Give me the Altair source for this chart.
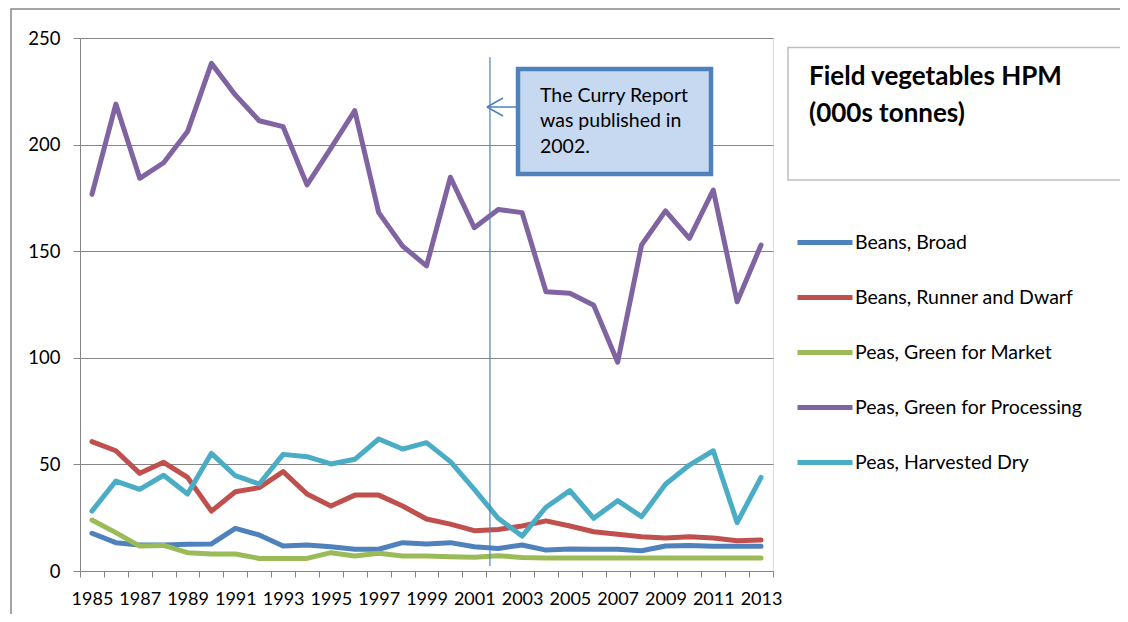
import altair as alt
import pandas as pd

years = ["1985", "1986", "1987", "1988", "1989", "1990", "1991", "1992", "1993", "1994",
         "1995", "1996", "1997", "1998", "1999", "2000", "2001", "2002", "2003", "2004",
         "2005", "2006", "2007", "2008", "2009", "2010", "2011", "2012", "2013"]

series_names = ["Beans, Broad", "Beans, Runner and Dwarf", "Peas, Green for Market",
                "Peas, Green for Processing", "Peas, Harvested Dry"]
series_colors = ["#4F81BD", "#C0504D", "#9BBB59", "#8064A2", "#4BACC6"]

beans_broad = [17.7, 13.3, 12.2, 12.2, 12.5, 12.7, 20.0, 16.9, 11.7, 12.2,
               11.4, 10.2, 10.2, 13.3, 12.7, 13.3, 11.4, 10.6, 12.2, 9.8,
               10.3, 10.2, 10.2, 9.5, 11.7, 12.0, 11.6, 11.6, 11.6]
beans_runner = [60.7, 56.4, 45.8, 51.0, 43.9, 28.1, 37.2, 39.1, 46.6, 36.1,
                30.5, 35.6, 35.6, 30.5, 24.4, 22.0, 18.9, 19.5, 21.1, 23.5,
                21.1, 18.4, 17.2, 16.1, 15.5, 16.1, 15.5, 14.2, 14.5]
peas_market = [23.9, 18.0, 11.7, 12.0, 8.6, 8.0, 8.0, 5.9, 5.9, 5.9,
               8.6, 7.0, 8.3, 7.0, 7.0, 6.7, 6.4, 7.2, 6.3, 6.1,
               6.1, 6.1, 6.1, 6.1, 6.1, 6.1, 6.1, 6.1, 6.1]
peas_processing = [176.7, 219.0, 184.2, 191.5, 206.1, 238.1, 223.3, 211.2, 208.4, 181.1,
                   198.3, 215.9, 168.1, 152.4, 143.1, 184.7, 161.0, 169.6, 168.1, 131.0,
                   130.3, 124.6, 97.9, 152.9, 168.9, 156.0, 178.7, 126.3, 152.9]
peas_dry = [28.1, 42.2, 38.3, 44.9, 36.1, 55.2, 44.7, 40.8, 54.7, 53.6,
            50.2, 52.4, 61.9, 57.2, 60.2, 51.3, 38.3, 24.7, 16.4, 29.9,
            37.7, 24.7, 33.0, 25.5, 40.7, 49.7, 56.4, 22.7, 43.9]

y_ticks = [0, 50, 100, 150, 200, 250]
report_year = ["2002"]
note_lines = ["The Curry Report", "was published in", "2002."]
title_lines = ["Field vegetables HPM", "(000s tonnes)"]

FONT = "Lato"
GRAY = "#868686"

rows = []
for name, vals in zip(series_names, [beans_broad, beans_runner, peas_market, peas_processing, peas_dry]):
    for yr, v in zip(years, vals):
        rows.append({"year": yr, "series": name, "value": v})
df = pd.DataFrame(rows)

xscale = alt.Scale(type="band", domain=years, paddingInner=0, paddingOuter=0)
xaxis = alt.Axis(
    title=None, labelAngle=0, tickBand="extent", tickSize=6, tickColor=GRAY,
    domainColor=GRAY, labelFont=FONT, labelFontSize=18, labelColor="black",
    labelPadding=13, labelOverlap=False,
    labelExpr="toNumber(datum.value) % 2 == 1 ? datum.value : ''",
)
yscale = alt.Scale(domain=[0, 250])
yaxis = alt.Axis(
    title=None, values=y_ticks, grid=True, gridColor=GRAY, domainColor=GRAY,
    tickColor=GRAY, tickSize=7, labelPadding=13, labelFont=FONT,
    labelFontSize=18.5, labelColor="black",
)

dummy = pd.DataFrame({"k": [0]})

outer = alt.Chart(dummy).mark_rect(fillOpacity=0, stroke=GRAY, strokeWidth=1.5).encode(
    x=alt.value(-69), x2=alt.value(1200), y=alt.value(-29), y2=alt.value(700)
)

title_box = alt.Chart(dummy).mark_rect(fill="white", stroke="#BFBFBF", strokeWidth=1.5).encode(
    x=alt.value(708), x2=alt.value(1045), y=alt.value(9.5), y2=alt.value(142)
)

title_text = alt.Chart(pd.DataFrame({"t": ["\n".join(title_lines)]})).mark_text(
    font=FONT, fontSize=26, fontWeight="bold", align="left", baseline="alphabetic",
    lineBreak="\n", lineHeight=36.7, color="black"
).encode(x=alt.value(729), y=alt.value(47), text="t:N")

lines = alt.Chart(df).mark_line(strokeWidth=5, strokeCap="round", strokeJoin="round").encode(
    x=alt.X("year:O", scale=xscale, axis=xaxis, bandPosition=0.5),
    y=alt.Y("value:Q", scale=yscale, axis=yaxis),
    color=alt.Color(
        "series:N",
        scale=alt.Scale(domain=series_names, range=series_colors),
        legend=alt.Legend(
            orient="none", legendX=715, legendY=174.5, title=None,
            symbolType="stroke", symbolSize=3025, symbolStrokeWidth=5,
            labelFont=FONT, labelFontSize=19.5, labelColor="black",
            labelOffset=0, rowPadding=15, padding=0, labelLimit=400,
        ),
    ),
)

rule = alt.Chart(pd.DataFrame({"year": report_year})).mark_rule(
    color="#4F81BD", strokeWidth=1.2
).encode(
    x=alt.X("year:O", scale=xscale, axis=xaxis, bandPosition=0.155),
    y=alt.value(19), y2=alt.value(528),
)

note_box = alt.Chart(dummy).mark_rect(fill="#C6D9F1", stroke="#4F81BD", strokeWidth=4.5).encode(
    x=alt.value(438), x2=alt.value(631), y=alt.value(31), y2=alt.value(136)
)

note_text = alt.Chart(pd.DataFrame({"t": ["\n".join(note_lines)]})).mark_text(
    font=FONT, fontSize=19.5, align="left", baseline="alphabetic",
    lineBreak="\n", lineHeight=25.5, color="black"
).encode(x=alt.value(460), y=alt.value(63.7), text="t:N")

arrow_shaft = alt.Chart(dummy).mark_rule(color="#4F81BD", strokeWidth=1.5).encode(
    x=alt.value(407), x2=alt.value(436), y=alt.value(69), y2=alt.value(69)
)
arrow_up = alt.Chart(dummy).mark_rule(color="#4F81BD", strokeWidth=1.5).encode(
    x=alt.value(407), x2=alt.value(423), y=alt.value(69), y2=alt.value(60)
)
arrow_dn = alt.Chart(dummy).mark_rule(color="#4F81BD", strokeWidth=1.5).encode(
    x=alt.value(407), x2=alt.value(423), y=alt.value(69), y2=alt.value(78)
)

chart = alt.layer(
    outer, title_box, title_text, lines, rule, note_box, note_text,
    arrow_shaft, arrow_up, arrow_dn
).properties(
    width=693, height=533,
    autosize=alt.AutoSizeParams(type="none"),
    padding={"left": 72, "top": 30, "right": 347, "bottom": 43},
).configure_view(stroke=None).configure(background="white")

chart.save("out.html", embed_options={"renderer": "svg", "actions": False})
